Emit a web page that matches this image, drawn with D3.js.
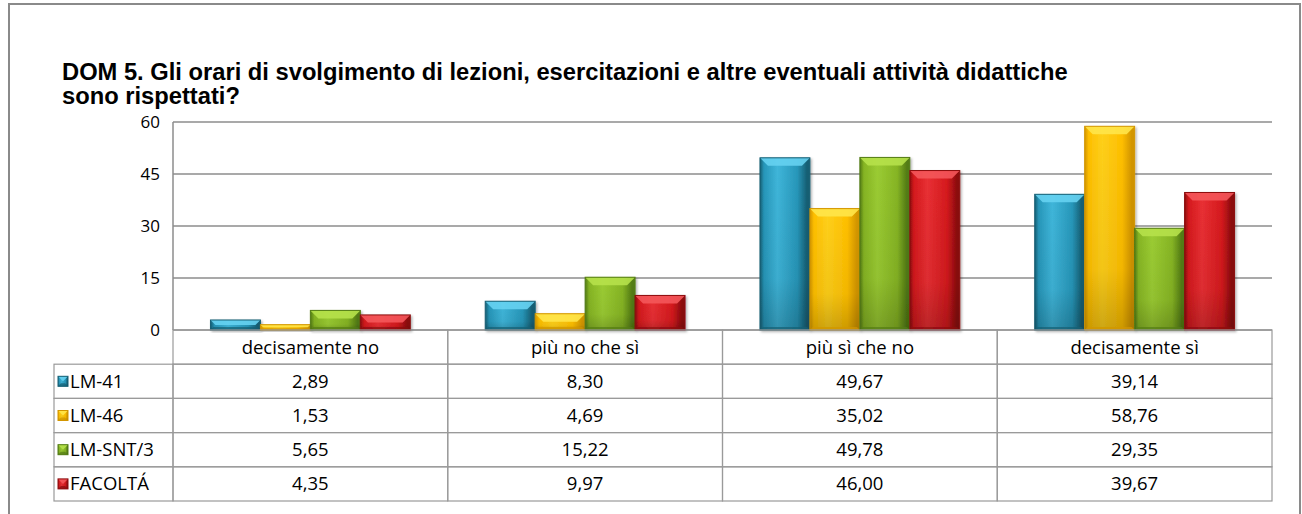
<!DOCTYPE html>
<html>
<head lang="it">
  <meta charset="UTF-8">
  <title>DOM 5</title>
  <script src="https://cdn.jsdelivr.net/npm/d3@7"></script>
</head>
<style>
  body { margin: 0; background: #fff; }
  #chart text { font-family: "Open Sans", sans-serif; fill: #000; }
  #chart .title { font-family: "Liberation Sans", Arial, sans-serif; font-weight: bold; font-size: 20px; }
  #chart .grid line { stroke: #8c8c8c; stroke-width: 1.5; }
  #chart .cell { fill: none; stroke: #9a9a9a; stroke-width: 1.2; }
</style>
<body>

<svg id="chart" width="1302" height="514"></svg>

<script>
  // Chart data
  var categories = ['decisamente no', 'più no che sì', 'più sì che no', 'decisamente sì'];
  var seriesNames = ['LM-41', 'LM-46', 'LM-SNT/3', 'FACOLTÁ'];
  var lm41     = [2.89, 8.30, 49.67, 39.14];
  var lm46     = [1.53, 4.69, 35.02, 58.76];
  var lmSnt3   = [5.65, 15.22, 49.78, 29.35];
  var facolta  = [4.35, 9.97, 46.00, 39.67];
  var yTicks   = [0, 15, 30, 45, 60];
  var titleLines = [
    'DOM 5. Gli orari di svolgimento di lezioni, esercitazioni e altre eventuali attività didattiche',
    'sono rispettati?'
  ];

  var seriesValues = [lm41, lm46, lmSnt3, facolta];

  // colours: base, light, dark, top bevel
  var palette = [
    { base: '#2797ba', light: '#3fb6da', dark: '#165f74', top: '#66d2f1' },
    { base: '#ffbf00', light: '#ffd01a', dark: '#d39600', top: '#ffe54a' },
    { base: '#86b524', light: '#9bcc33', dark: '#537c14', top: '#b6e14a' },
    { base: '#d5191d', light: '#e93034', dark: '#8c0c0e', top: '#f4575a' }
  ];

  var plotLeft = 173, plotRight = 1272;
  var plotTop = 122, plotBottom = 330;
  var rowH = 34.2;
  var legendLeft = 54;
  var cellFont = '18.5px';
  var titleWidth = 1006;

  var svg = d3.select('#chart');
  var defs = svg.append('defs');

  // gradients for each series
  palette.forEach(function (c, i) {
    var g = defs.append('linearGradient')
      .attr('id', 'body' + i)
      .attr('x1', '0%').attr('x2', '100%').attr('y1', '0%').attr('y2', '0%');
    g.append('stop').attr('offset', '0%').attr('stop-color', c.dark);
    g.append('stop').attr('offset', '8%').attr('stop-color', c.base);
    g.append('stop').attr('offset', '35%').attr('stop-color', c.light);
    g.append('stop').attr('offset', '75%').attr('stop-color', c.base);
    g.append('stop').attr('offset', '94%').attr('stop-color', c.dark);
    g.append('stop').attr('offset', '100%').attr('stop-color', c.dark);

    var v = defs.append('linearGradient')
      .attr('id', 'shade' + i)
      .attr('x1', '0%').attr('x2', '0%').attr('y1', '0%').attr('y2', '100%');
    v.append('stop').attr('offset', '0%').attr('stop-color', '#000').attr('stop-opacity', 0);
    v.append('stop').attr('offset', '70%').attr('stop-color', '#000').attr('stop-opacity', 0.05);
    v.append('stop').attr('offset', '100%').attr('stop-color', '#000').attr('stop-opacity', 0.2);
  });

  var shadow = defs.append('filter').attr('id', 'shadow')
    .attr('x', '-10%').attr('y', '-10%').attr('width', '130%').attr('height', '130%');
  shadow.append('feDropShadow')
    .attr('dx', 1.5).attr('dy', 1.5).attr('stdDeviation', 1.2)
    .attr('flood-color', '#000').attr('flood-opacity', 0.3);

  // outer frame
  svg.append('rect')
    .attr('x', 9).attr('y', 4)
    .attr('width', 1291).attr('height', 540)
    .attr('fill', 'none')
    .attr('stroke', '#8a8a8a')
    .attr('stroke-width', 2);

  // title, two lines; size fitted to the width of the first line
  var titles = svg.selectAll('.title')
    .data(titleLines)
    .enter()
      .append('text')
      .attr('class', 'title')
      .attr('x', 62)
      .attr('y', function (d, i) { return 80 + i * 24; })
      .text(function (d) { return d; });
  var w0 = titles.node().getComputedTextLength();
  if (w0 > 0) titles.style('font-size', (20 * titleWidth / w0) + 'px');

  // scales
  var y = d3.scaleLinear().domain([0, 60]).range([plotBottom, plotTop]);
  var x0 = d3.scaleBand().domain(categories).range([plotLeft, plotRight]).padding(0);
  var x1 = d3.scaleBand().domain(seriesNames).range([0, x0.bandwidth()])
    .paddingInner(0).paddingOuter(0.75);

  // gridlines
  svg.append('g')
    .attr('class', 'grid')
    .selectAll('line')
    .data(yTicks)
    .enter()
      .append('line')
      .attr('x1', plotLeft).attr('x2', plotRight)
      .attr('y1', y).attr('y2', y);

  svg.append('line')
    .attr('x1', plotLeft).attr('x2', plotLeft)
    .attr('y1', plotTop).attr('y2', plotBottom)
    .attr('stroke', '#8c8c8c').attr('stroke-width', 1.5);

  // y axis labels
  var yAxis = d3.axisLeft(y).tickValues(yTicks).tickSize(0).tickPadding(13);
  var yAxisG = svg.append('g')
    .attr('transform', 'translate(' + plotLeft + ',0)')
    .call(yAxis);
  yAxisG.select('.domain').remove();
  yAxisG.selectAll('text')
    .style('font-family', '"Open Sans", sans-serif')
    .style('font-size', '17px')
    .attr('fill', '#000');

  // bevelled bar
  function drawBevel(sel, x, yTop, w, h, i) {
    var c = palette[i];
    var b = Math.min(8, h / 2);
    var s = Math.min(3, h / 3);
    sel.append('rect')
      .attr('x', x).attr('y', yTop).attr('width', w).attr('height', h)
      .attr('fill', 'url(#body' + i + ')');
    sel.append('rect')
      .attr('x', x).attr('y', yTop).attr('width', w).attr('height', h)
      .attr('fill', 'url(#shade' + i + ')');
    // top face
    sel.append('polygon')
      .attr('points', [
        [x, yTop], [x + w, yTop], [x + w - b, yTop + b], [x + b, yTop + b]
      ].join(' '))
      .attr('fill', c.top)
      .attr('opacity', 0.9);
    // bottom face
    sel.append('polygon')
      .attr('points', [
        [x, yTop + h], [x + w, yTop + h], [x + w - s, yTop + h - s], [x + s, yTop + h - s]
      ].join(' '))
      .attr('fill', c.dark)
      .attr('opacity', 0.7);
    sel.append('rect')
      .attr('x', x).attr('y', yTop).attr('width', w).attr('height', h)
      .attr('fill', 'none')
      .attr('stroke', c.dark)
      .attr('stroke-width', 1);
  }

  var groups = svg.append('g').selectAll('g')
    .data(categories)
    .enter()
      .append('g')
      .attr('transform', function (d) { return 'translate(' + x0(d) + ',0)'; });

  groups.each(function (cat, ci) {
    var grp = d3.select(this);
    seriesNames.forEach(function (name, si) {
      var v = seriesValues[si][ci];
      var bar = grp.append('g').attr('filter', 'url(#shadow)');
      drawBevel(bar, x1(name), y(v), x1.bandwidth(), y(0) - y(v), si);
    });
  });

  // data table
  var table = svg.append('g');

  // header cells
  table.selectAll('.head')
    .data(categories)
    .enter()
      .append('rect')
      .attr('class', 'cell')
      .attr('x', function (d) { return x0(d); })
      .attr('y', plotBottom)
      .attr('width', x0.bandwidth())
      .attr('height', rowH);

  table.selectAll('.headText')
    .data(categories)
    .enter()
      .append('text')
      .attr('x', function (d) { return x0(d) + x0.bandwidth() / 2; })
      .attr('y', plotBottom + rowH / 2 + 6.5)
      .attr('text-anchor', 'middle')
      .style('font-size', cellFont)
      .text(function (d) { return d; });

  var fmt = d3.format('.2f');

  seriesNames.forEach(function (name, si) {
    var rowY = plotBottom + rowH * (si + 1);
    table.append('rect')
      .attr('class', 'cell')
      .attr('x', legendLeft).attr('y', rowY)
      .attr('width', plotLeft - legendLeft).attr('height', rowH);
    var sw = table.append('g');
    drawBevel(sw, legendLeft + 4, rowY + rowH / 2 - 5, 10, 10, si);
    table.append('text')
      .attr('x', legendLeft + 16)
      .attr('y', rowY + rowH / 2 + 6.5)
      .style('font-size', cellFont)
      .text(name);

    categories.forEach(function (cat, ci) {
      table.append('rect')
        .attr('class', 'cell')
        .attr('x', x0(cat)).attr('y', rowY)
        .attr('width', x0.bandwidth()).attr('height', rowH);
      table.append('text')
        .attr('x', x0(cat) + x0.bandwidth() / 2)
        .attr('y', rowY + rowH / 2 + 6.5)
        .attr('text-anchor', 'middle')
        .style('font-size', cellFont)
        .text(fmt(seriesValues[si][ci]).replace('.', ','));
    });
  });
</script>
</body>
</html>
